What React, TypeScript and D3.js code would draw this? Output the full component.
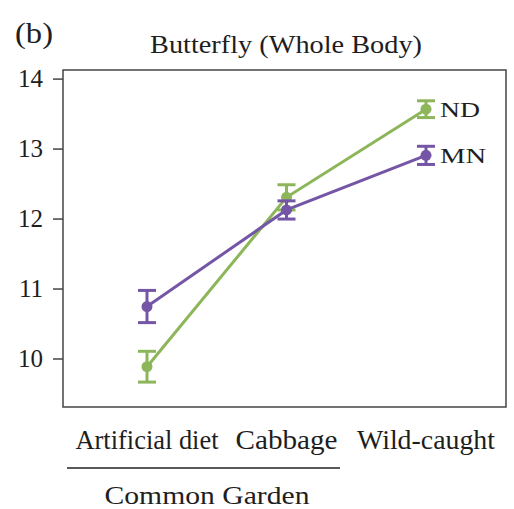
import React from 'react';
import * as d3 from 'd3';

// categories and series
const categories = ['Artificial diet', 'Cabbage', 'Wild-caught'];
const ndMeans = [9.89, 12.31, 13.57];
const ndErr = [0.22, 0.18, 0.12];
const mnMeans = [10.75, 12.13, 12.91];
const mnErr = [0.23, 0.13, 0.13];
const yTicks = [10, 11, 12, 13, 14];
const categoryWidths = [143, 102, 138];

const GREEN = '#8db55a';
const PURPLE = '#7556a6';
const FONT = 'Liberation Serif';

const width = 514;
const height = 509;
const left = 63;
const right = 506;
const top = 70;
const bottom = 407;

const txt = { fontFamily: FONT, fill: '#1e1e1e' };

const App = () => {
  const y = d3.scaleLinear().domain([9.314, 14.13]).range([bottom, top]);
  const x = d3.scalePoint().domain(categories).range([147, 426]);

  const line = d3.line<number>()
    .x((_, i) => x(categories[i]) as number)
    .y((d) => y(d));

  const series = [
    { name: 'ND', means: ndMeans, err: ndErr, color: GREEN, w: 40 },
    { name: 'MN', means: mnMeans, err: mnErr, color: PURPLE, w: 46 },
  ];

  return (
    <svg width={width} height={height} style={{ position: 'absolute', left: 0, top: 0 }}>
      <rect width={width} height={height} fill="#fff" />
      <text x={15} y={43} textLength={38} lengthAdjust="spacingAndGlyphs" style={{ ...txt, fontSize: 30 }}>(b)</text>
      <text x={286} y={53} textAnchor="middle" textLength={272} lengthAdjust="spacingAndGlyphs"
        style={{ ...txt, fontSize: 26 }}>
        Butterfly (Whole Body)
      </text>

      {/* plot frame */}
      <rect x={left} y={top} width={right - left} height={bottom - top}
        fill="none" stroke="#444" strokeWidth={1.5} />

      {/* y axis */}
      {yTicks.map((t) => (
        <g key={t}>
          <line x1={left - 10} x2={left} y1={y(t)} y2={y(t)} stroke="#444" strokeWidth={1.5} />
          <text x={43} y={y(t)} dy="0.33em" textAnchor="end" style={{ ...txt, fontSize: 25 }}>
            {t}
          </text>
        </g>
      ))}

      {/* series */}
      {series.map((s) => (
        <g key={s.name}>
          <path d={line(s.means) as string} fill="none" stroke={s.color} strokeWidth={3} />
          {s.means.map((m, i) => {
            const cx = x(categories[i]) as number;
            return (
              <g key={i}>
                <line x1={cx} x2={cx} y1={y(m - s.err[i])} y2={y(m + s.err[i])} stroke={s.color} strokeWidth={3} />
                <line x1={cx - 9} x2={cx + 9} y1={y(m - s.err[i])} y2={y(m - s.err[i])} stroke={s.color} strokeWidth={3} />
                <line x1={cx - 9} x2={cx + 9} y1={y(m + s.err[i])} y2={y(m + s.err[i])} stroke={s.color} strokeWidth={3} />
                <circle cx={cx} cy={y(m)} r={5.5} fill={s.color} />
              </g>
            );
          })}
          <text x={440} y={y(s.means[2])} dy="0.34em" textLength={s.w} lengthAdjust="spacingAndGlyphs"
            style={{ ...txt, fontSize: 22 }}>
            {s.name}
          </text>
        </g>
      ))}

      {/* x categories */}
      {categories.map((c, i) => (
        <text key={c} x={x(c) as number} y={449} textAnchor="middle" textLength={categoryWidths[i]}
          lengthAdjust="spacingAndGlyphs" style={{ ...txt, fontSize: 27 }}>
          {c}
        </text>
      ))}
      <line x1={67} x2={340} y1={468} y2={468} stroke="#222" strokeWidth={1.5} />
      <text x={207} y={504} textAnchor="middle" textLength={205} lengthAdjust="spacingAndGlyphs"
        style={{ ...txt, fontSize: 26 }}>
        Common Garden
      </text>
    </svg>
  );
};

export default App;
